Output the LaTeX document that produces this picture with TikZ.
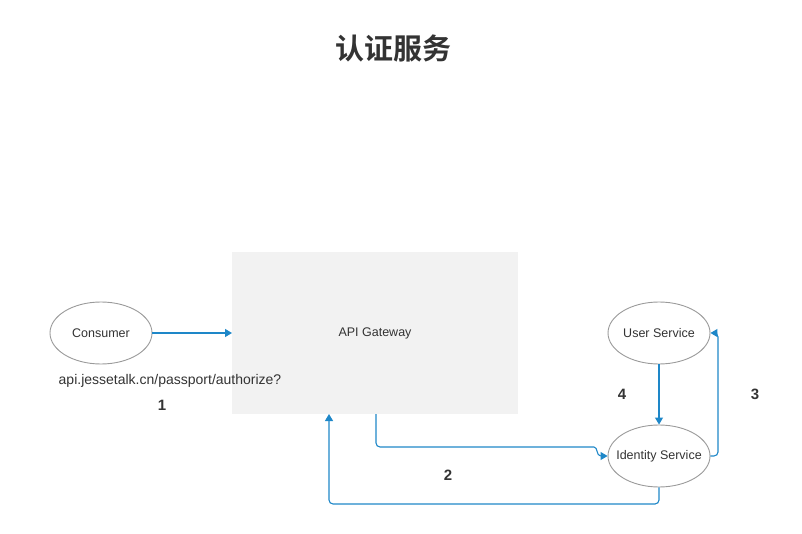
\documentclass[tikz,border=0pt]{standalone}
\usepackage{fontspec}
\setmainfont{Liberation Sans}
\newfontfamily\cjk{Noto Sans CJK SC}[BoldFont={* Bold}]
\usetikzlibrary{shapes.geometric,arrows.meta}
\definecolor{flow}{HTML}{1E87C8}
\definecolor{rim}{HTML}{9A9A9A}
\definecolor{gw}{HTML}{F2F2F2}
\definecolor{ink}{HTML}{333333}
\newcommand{\zw}[1]{\makebox[0pt][c]{#1}}
\tikzset{
  svc/.style={ellipse,draw=rim,line width=0.9pt,fill=white,minimum width=102pt,minimum height=62pt,inner sep=0pt,font=\fontsize{12.5}{14}\selectfont,text=ink},
  flowline/.style={draw=flow,line width=1.1pt,-{Triangle[length=7pt,width=8pt]},rounded corners=4pt},
  num/.style={font=\bfseries\fontsize{15}{17}\selectfont,text=ink}
}
\begin{document}
\begin{tikzpicture}[x=1pt,y=-1pt]
\useasboundingbox (0,0) rectangle (802,534);
\node[font=\cjk\bfseries\fontsize{29}{32}\selectfont,text=ink] (title) at (393,48) {认证服务};
\node[fill=gw,minimum width=286pt,minimum height=162pt,inner sep=0pt] (gw) at (375,333) {};
\node[font=\fontsize{12.5}{14}\selectfont,text=ink] (gwlabel) at (375,333) {API Gateway};
\node[svc] (consumer) at (101,333) {\zw{Consumer}};
\node[svc] (user) at (659,333) {\zw{User Service}};
\node[svc] (ident) at (659,456) {\zw{Identity Service}};
\node[font=\fontsize{14}{16}\selectfont,text=ink] (url) at (170,381) {api.jessetalk.cn/passport/authorize?};
\node[num] (n1) at (162,405) {1};
\node[num] (n2) at (448,475) {2};
\node[num] (n3) at (755,394) {3};
\node[num] (n4) at (622,394) {4};
\coordinate (gwin) at (232,333);
\draw[flowline] (consumer.east) -- (gwin);
\draw[flowline] (user.south) -- (ident.north);
\draw[flowline] (ident.east) -| (718,333) -- (user.east);
\draw[flowline] (376,414) |- (590,447) [rounded corners=0pt] .. controls (598,447) and (596,456) .. (ident.west);
\coordinate (gwret) at (329,414);
\draw[flowline] (ident.south) |- (329,504) -- (gwret);
\end{tikzpicture}
\end{document}
